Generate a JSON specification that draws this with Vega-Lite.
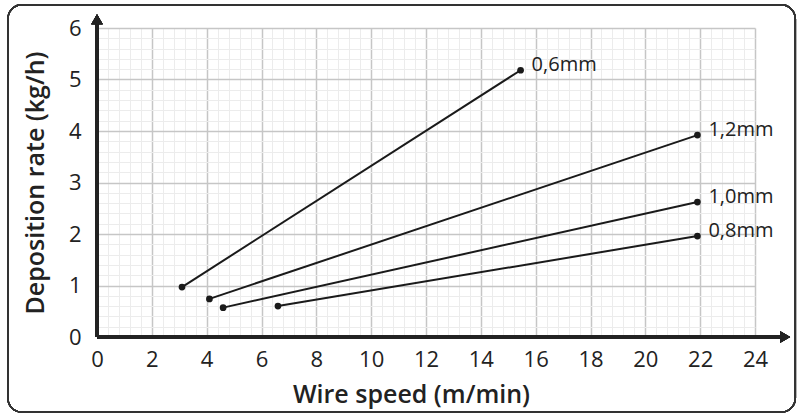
{
  "$schema": "https://vega.github.io/schema/vega-lite/v6.json",
  "autosize": "none",
  "width": 658,
  "height": 309,
  "padding": {"left": 97, "top": 28, "right": 45, "bottom": 82},
  "background": "white",
  "config": {
    "view": {"stroke": null},
    "font": "Open Sans",
    "axis": {"labelFont": "Open Sans", "titleFont": "Open Sans"}
  },
  "data": {
    "values": [
      {"wire": "0,6mm", "speed": 3.1, "rate": 0.97},
      {"wire": "0,6mm", "speed": 15.45, "rate": 5.18},
      {"wire": "1,2mm", "speed": 4.1, "rate": 0.74},
      {"wire": "1,2mm", "speed": 21.9, "rate": 3.92},
      {"wire": "1,0mm", "speed": 4.6, "rate": 0.57},
      {"wire": "1,0mm", "speed": 21.9, "rate": 2.62},
      {"wire": "0,8mm", "speed": 6.6, "rate": 0.6},
      {"wire": "0,8mm", "speed": 21.9, "rate": 1.96}
    ]
  },
  "layer": [
    {
      "mark": {"type": "line", "color": "#1a1a1a", "strokeWidth": 2},
      "encoding": {
        "x": {
          "field": "speed", "type": "quantitative",
          "scale": {"domain": [0, 24], "nice": false, "zero": false},
          "axis": {
            "title": "Wire speed (m/min)",
            "values": [0,0.4,0.8,1.2,1.6,2,2.4,2.8,3.2,3.6,4,4.4,4.8,5.2,5.6,6,6.4,6.8,7.2,7.6,8,8.4,8.8,9.2,9.6,10,10.4,10.8,11.2,11.6,12,12.4,12.8,13.2,13.6,14,14.4,14.8,15.2,15.6,16,16.4,16.8,17.2,17.6,18,18.4,18.8,19.2,19.6,20,20.4,20.8,21.2,21.6,22,22.4,22.8,23.2,23.6,24],
            "tickCount": 200,
            "labelExpr": "datum.value % 2 === 0 ? format(datum.value, 'd') : ''",
            "labelOverlap": false,
            "labelFlush": false,
            "labelFontSize": 22,
            "labelColor": "#222222",
            "labelPadding": 12,
            "ticks": false,
            "domain": false,
            "grid": true,
            "gridColor": {"condition": {"test": "datum.value % 2 === 0", "value": "#c6c6c6"}, "value": "#ececec"},
            "gridWidth": {"condition": {"test": "datum.value % 2 === 0", "value": 1.5}, "value": 1},
            "titleFontSize": 25,
            "titleFontWeight": 600,
            "titleColor": "#222222",
            "titlePadding": 12,
            "titleX": 314
          }
        },
        "y": {
          "field": "rate", "type": "quantitative",
          "scale": {"domain": [0, 6], "nice": false, "zero": false},
          "axis": {
            "title": "Deposition rate (kg/h)",
            "values": [0,0.2,0.4,0.6,0.8,1,1.2,1.4,1.6,1.8,2,2.2,2.4,2.6,2.8,3,3.2,3.4,3.6,3.8,4,4.2,4.4,4.6,4.8,5,5.2,5.4,5.6,5.8,6],
            "tickCount": 200,
            "labelExpr": "datum.value % 1 === 0 ? format(datum.value, 'd') : ''",
            "labelOverlap": false,
            "labelFlush": false,
            "labelFontSize": 22,
            "labelColor": "#222222",
            "labelPadding": 16,
            "ticks": false,
            "domain": false,
            "grid": true,
            "gridColor": {"condition": {"test": "datum.value % 1 === 0", "value": "#c6c6c6"}, "value": "#ececec"},
            "gridWidth": {"condition": {"test": "datum.value % 1 === 0", "value": 1.5}, "value": 1},
            "titleFontSize": 25,
            "titleFontWeight": 600,
            "titleColor": "#222222",
            "titlePadding": 20
          }
        },
        "detail": {"field": "wire"}
      }
    },
    {
      "mark": {"type": "point", "filled": true, "color": "#1a1a1a", "size": 45, "opacity": 1},
      "encoding": {
        "x": {"field": "speed", "type": "quantitative"},
        "y": {"field": "rate", "type": "quantitative"}
      }
    },
    {
      "transform": [
        {"joinaggregate": [{"op": "max", "field": "speed", "as": "maxspeed"}], "groupby": ["wire"]},
        {"filter": "datum.speed === datum.maxspeed"}
      ],
      "mark": {"type": "text", "align": "left", "baseline": "middle", "dx": 11, "dy": -5, "fontSize": 20, "fontWeight": 500, "color": "#222222"},
      "encoding": {
        "x": {"field": "speed", "type": "quantitative"},
        "y": {"field": "rate", "type": "quantitative"},
        "text": {"field": "wire"}
      }
    },
    {
      "mark": {"type": "rect", "fill": null, "stroke": "#333333", "strokeWidth": 1.5, "cornerRadius": 14, "clip": false},
      "encoding": {
        "x": {"datum": -3.25, "type": "quantitative"},
        "x2": {"datum": 25.47},
        "y": {"datum": 6.45, "type": "quantitative"},
        "y2": {"datum": -1.46}
      }
    },
    {
      "mark": {"type": "rule", "color": "#222222", "strokeWidth": 3, "clip": false},
      "encoding": {
        "x": {"datum": 0, "type": "quantitative"},
        "x2": {"datum": 25.0},
        "y": {"datum": 0, "type": "quantitative"}
      }
    },
    {
      "mark": {"type": "rule", "color": "#222222", "strokeWidth": 3, "clip": false},
      "encoding": {
        "x": {"datum": 0, "type": "quantitative"},
        "y": {"datum": 0, "type": "quantitative"},
        "y2": {"datum": 6.1}
      }
    },
    {
      "mark": {"type": "point", "shape": "triangle-right", "filled": true, "color": "#222222", "size": 130, "opacity": 1, "clip": false},
      "encoding": {
        "x": {"datum": 25.1, "type": "quantitative"},
        "y": {"datum": 0, "type": "quantitative"}
      }
    },
    {
      "mark": {"type": "point", "shape": "triangle-up", "filled": true, "color": "#222222", "size": 130, "opacity": 1, "clip": false},
      "encoding": {
        "x": {"datum": 0, "type": "quantitative"},
        "y": {"datum": 6.17, "type": "quantitative"}
      }
    }
  ]
}
